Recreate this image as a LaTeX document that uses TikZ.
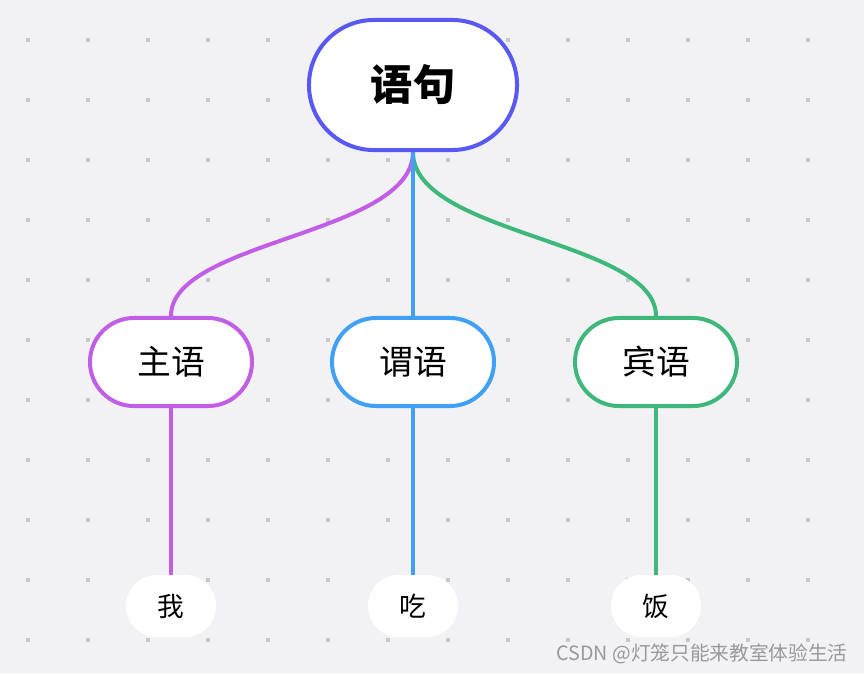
\documentclass[tikz,border=0pt]{standalone}
\usepackage{fontspec}
\setmainfont{Noto Sans CJK SC}
\usetikzlibrary{backgrounds}
\definecolor{bgcol}{HTML}{F2F2F5}
\definecolor{dotcol}{HTML}{C8C8CC}
\definecolor{rootcol}{HTML}{5858F5}
\definecolor{subjcol}{HTML}{C25EE6}
\definecolor{predcol}{HTML}{3FA0F5}
\definecolor{objcol}{HTML}{3DB87A}
\begin{document}
\begin{tikzpicture}[
    x=0.025cm, y=-0.025cm,
    rootbox/.style={draw=rootcol, line width=0.1cm, fill=white, rounded corners=1.62cm,
        minimum width=5.2cm, minimum height=3.25cm, font=\fontsize{30}{32}\selectfont\bfseries},
    part/.style={draw=#1, line width=0.1cm, fill=white, rounded corners=1.1cm,
        minimum width=4.05cm, minimum height=2.2cm, font=\fontsize{24}{26}\selectfont},
    leaf/.style={fill=white, rounded corners=0.77cm, minimum width=2.25cm,
        minimum height=1.55cm, font=\fontsize{19}{21}\selectfont},
    edge/.style={line width=0.1cm, draw=#1}
]
\useasboundingbox (0,0) rectangle (864,673);

% nodes
\node[rootbox] (root) at (413,85) {语句};
\node[part=subjcol] (subj) at (171,362) {主语};
\node[part=predcol] (pred) at (413,362) {谓语};
\node[part=objcol] (obj) at (656,362) {宾语};
\node[leaf] (wo) at (171,606) {我};
\node[leaf] (chi) at (413,606) {吃};
\node[leaf] (fan) at (656,606) {饭};
\node[text=gray!80, font=\fontsize{14}{16}\selectfont] (mark) at (702,654) {CSDN @灯笼只能来教室体验生活};

\begin{pgfonlayer}{background}
\fill[bgcol] (0,0) rectangle (864,673);
\foreach \i in {0,...,13}
  \foreach \j in {0,...,10}
    \fill[dotcol] (26+60*\i,38+60*\j) rectangle ++(4,4);
% connectors
\draw[edge=subjcol] (root.south) .. controls (413,235) and (171,240) .. (subj.north);
\draw[edge=objcol] (root.south) .. controls (413,235) and (656,240) .. (obj.north);
\draw[edge=predcol] (root.south) -- (pred.north);
\draw[edge=subjcol] (subj.south) -- (wo.north);
\draw[edge=predcol] (pred.south) -- (chi.north);
\draw[edge=objcol] (obj.south) -- (fan.north);
\end{pgfonlayer}
\end{tikzpicture}
\end{document}
